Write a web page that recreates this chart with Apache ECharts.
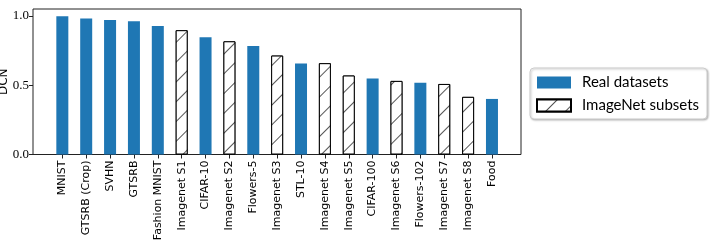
<!DOCTYPE html>
<html lang="en">
<head>
    <meta charset="UTF-8">
    <title>DCN</title>
    <script src="https://cdn.jsdelivr.net/npm/echarts@6/dist/echarts.min.js"></script>
    <style>
        html, body { margin: 0; padding: 0; background: #fff; }
        #main { width: 710px; height: 240px; }
    </style>
</head>
<body>
<div id="main"></div>
<script>
// datasets, sorted by DCN
var names = ['MNIST', 'GTSRB (Crop)', 'SVHN', 'GTSRB', 'Fashion MNIST', 'Imagenet S1', 'CIFAR-10',
    'Imagenet S2', 'Flowers-5', 'Imagenet S3', 'STL-10', 'Imagenet S4', 'Imagenet S5', 'CIFAR-100',
    'Imagenet S6', 'Flowers-102', 'Imagenet S7', 'Imagenet S8', 'Food'];
var dcn = [0.998, 0.981, 0.971, 0.962, 0.928, 0.897, 0.846, 0.817, 0.783, 0.714, 0.657, 0.659,
    0.570, 0.548, 0.531, 0.517, 0.509, 0.416, 0.401];
// true = ImageNet subset (hatched)
var isSubset = [false, false, false, false, false, true, false, true, false, true, false, true,
    true, false, true, false, true, true, false];
var yTicks = [0.0, 0.5, 1.0];

var realData = [];
var subData = [];
for (var i = 0; i < names.length; i++) {
    if (isSubset[i]) { realData.push('-'); subData.push(dcn[i]); }
    else { realData.push(dcn[i]); subData.push('-'); }
}

var hatch = {
    symbol: 'rect',
    symbolSize: 1,
    dashArrayX: [1, 0],
    dashArrayY: [1, 13],
    rotation: -Math.PI / 4,
    color: '#555',
    backgroundColor: '#fff'
};

var chart = echarts.init(document.getElementById('main'));
var option = {
    animation: false,
    grid: [
        { left: 33, top: 9, width: 488, bottom: 85.5, outerBoundsMode: 'none', containLabel: false,
          show: true, borderColor: '#222', borderWidth: 1, backgroundColor: 'transparent' },
        { left: 50.4, top: 9, width: 453.5, bottom: 85.5, outerBoundsMode: 'none', containLabel: false }
    ],
    legend: {
        orient: 'vertical',
        left: 530,
        top: 68,
        padding: [7, 8, 6, 6],
        itemWidth: 34,
        itemHeight: 12,
        itemGap: 8,
        icon: 'rect',
        borderColor: '#ccc',
        borderWidth: 1,
        borderRadius: 4,
        backgroundColor: '#fff',
        shadowColor: 'rgba(0,0,0,0.25)',
        shadowBlur: 2,
        shadowOffsetX: 1,
        shadowOffsetY: 1,
        textStyle: { fontFamily: 'Lato', fontSize: 15, color: '#000', padding: [0, 0, 0, 6] },
        data: ['Real datasets', 'ImageNet subsets']
    },
    xAxis: [
        { type: 'value', gridIndex: 0, show: false, min: 0, max: 1 },
        {
            type: 'category', gridIndex: 1, data: names,
            axisLine: { show: false },
            axisTick: { show: true, alignWithLabel: true, length: 4, lineStyle: { color: '#222' } },
            axisLabel: { rotate: 90, interval: 0, margin: 6, fontFamily: 'DejaVu Sans', fontSize: 11, color: '#000' }
        }
    ],
    yAxis: [
        {
            type: 'value', gridIndex: 0, min: 0, max: 1.05, interval: 0.5,
            name: 'DCN', nameLocation: 'middle', nameGap: 23, nameMoveOverlap: false,
            nameTextStyle: { fontFamily: 'DejaVu Sans', fontSize: 12, color: '#000' },
            axisLine: { show: false },
            splitLine: { show: false },
            axisLabel: {
                margin: 4, fontFamily: 'Liberation Serif', fontSize: 13, color: '#000',
                customValues: yTicks,
                formatter: function (v) { return v.toFixed(1); }
            },
            axisTick: { show: true, length: 4, customValues: yTicks, lineStyle: { color: '#222' } }
        },
        { type: 'value', gridIndex: 1, min: 0, max: 1.05, show: false, splitLine: { show: false } }
    ],
    series: [
        {
            name: 'Real datasets', type: 'bar', xAxisIndex: 1, yAxisIndex: 1,
            data: realData, barWidth: 12, barGap: '-100%',
            itemStyle: { color: '#1f77b4' }
        },
        {
            name: 'ImageNet subsets', type: 'bar', xAxisIndex: 1, yAxisIndex: 1,
            data: subData, barWidth: 12, barGap: '-100%',
            itemStyle: { color: '#fff', borderColor: '#000', borderWidth: 1, decal: hatch }
        }
    ]
};
chart.setOption(option);
</script>
</body>
</html>
